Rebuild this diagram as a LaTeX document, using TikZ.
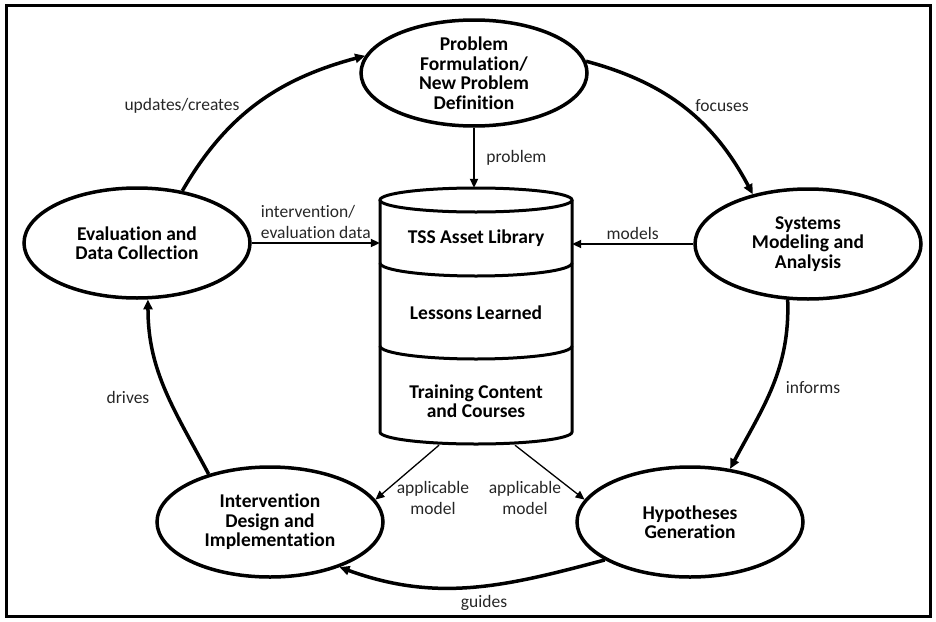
\documentclass[tikz,border=0pt]{standalone}
\usepackage{fontspec}
\setmainfont{Carlito}[Ligatures=NoCommon]
\usetikzlibrary{arrows.meta,calc,positioning,shapes.geometric}
\tikzset{
    >={Triangle[length=10pt,width=9pt]},
    phase/.style={
           ellipse,
           draw=black, line width=3.5pt,
           minimum width=226pt,
           minimum height=110pt,
           inner sep=0pt,
           align=center,
           font=\bfseries\fontsize{19.5}{19.5}\selectfont},
    ring/.style={
           ->,
           line width=3.5pt},
    feed/.style={
           -{Triangle[length=9pt,width=8pt]},
           line width=2pt},
    apply/.style={
           -{Triangle[length=9pt,width=8pt]},
           line width=1.3pt},
    shell/.style={
           line width=3pt},
    layer/.style={
           align=center,
           font=\bfseries\fontsize{19.5}{18.5}\selectfont},
    lbl/.style={
           text=black!85,
           align=center,
           font=\fontsize{17.5}{21}\selectfont}
}

\begin{document}
\begin{tikzpicture}[x=1pt, y=-1pt]
        \useasboundingbox (0,0) rectangle (936,621);
        \draw[line width=3pt] (6,5) rectangle (930,616);

        % the five stages
        \node[phase, minimum height=106pt] (problem) at (474,73) {Problem\\Formulation/\\New Problem\\Definition};
        \node[phase] (evaluation) at (137,243) {Evaluation and\\Data Collection};
        \node[phase] (systems) at (808,244) {Systems\\Modeling and\\Analysis};
        \node[phase] (intervention) at (270,522) {Intervention\\Design and\\Implementation};
        \node[phase] (hypotheses) at (690,522) {Hypotheses\\Generation};

        % the library cylinder
        \node[minimum width=192pt, minimum height=256pt, inner sep=0pt] (library) at (476,316) {};
        \draw[shell] (476,200) ellipse [x radius=96pt, y radius=12pt];
        \draw[shell] (380,200) -- (380,432) arc[start angle=180, end angle=360, x radius=96pt, y radius=12pt] -- (572,200);
        \draw[shell] (380,263) arc[start angle=180, end angle=360, x radius=96pt, y radius=13pt];
        \draw[shell] (380,346) arc[start angle=180, end angle=360, x radius=96pt, y radius=13pt];
        \node[layer] (assets) at (476,238) {TSS Asset Library};
        \node[layer] (lessons) at (476,313) {Lessons Learned};
        \node[layer] (training) at (476,401) {Training Content\\and Courses};

        % the cycle
        \draw[ring] (evaluation.49) to[out=60, in=195] (problem.171);
        \draw[ring] (problem.6) to[out=-15, in=118] (systems.138);
        \draw[ring] (systems.250) to[out=-88, in=62] (hypotheses.53);
        \draw[ring] (hypotheses.204) to[out=195, in=-20] (intervention.-33);
        \draw[ring] (intervention.142) to[out=118, in=-90] (evaluation.-79);

        \node[lbl] (updates) at (182,106) {updates/creates};
        \node[lbl] (focuses) at (722,106) {focuses};
        \node[lbl] (informs) at (813,388) {informs};
        \node[lbl] (guides) at (484,603) {guides};
        \node[lbl] (drives) at (128,397) {drives};

        % into and out of the library
        \draw[feed] (problem.south) -- (problem.south |- library.north) node[lbl, midway, right=8pt] {problem};
        \draw[feed] (evaluation.east) -- (evaluation.east -| library.west) node[lbl, midway, above, align=left] {intervention/\\evaluation data};
        \draw[feed] (systems.west) -- (systems.west -| library.east) node[lbl, midway, above] {models};
        \draw[apply] ($(library.south)+(-37,1)$) -- (intervention.12);
        \draw[apply] ($(library.south)+(39,1)$) -- (hypotheses.168);
        \node[lbl] (applyleft) at (433,498) {applicable\\model};
        \node[lbl] (applyright) at (525,498) {applicable\\model};
    \end{tikzpicture}
\end{document}
